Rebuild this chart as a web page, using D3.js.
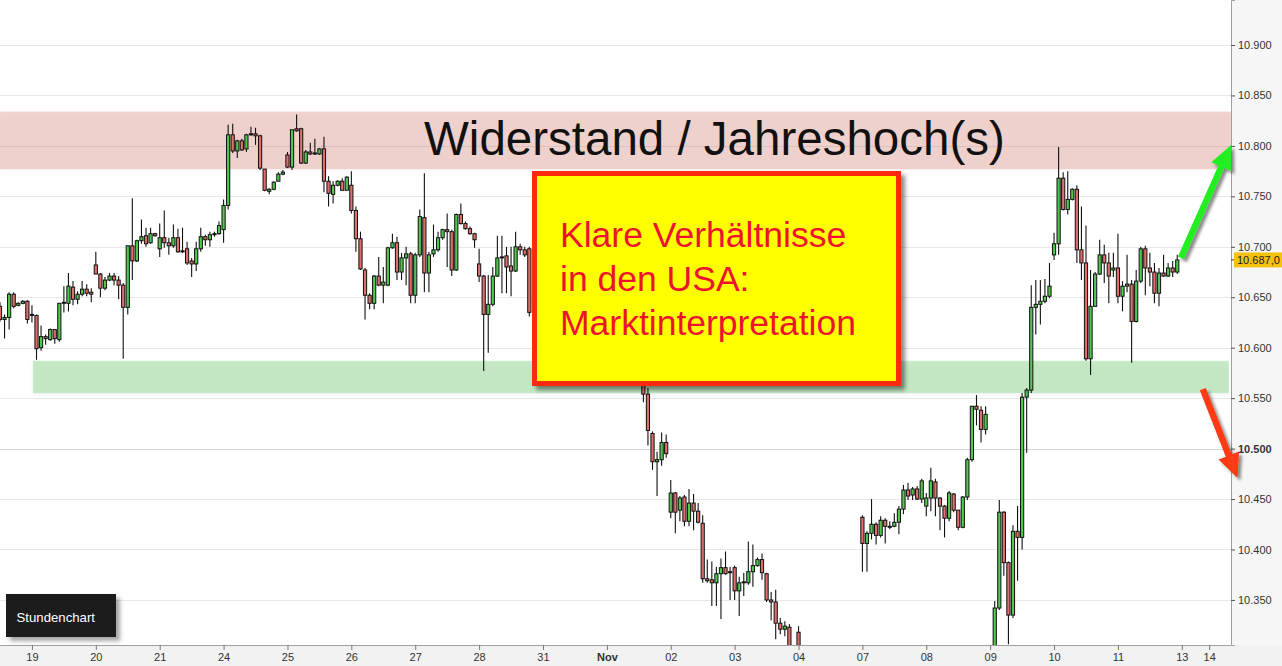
<!DOCTYPE html>
<html><head><meta charset="utf-8">
<script src="https://cdn.jsdelivr.net/npm/d3@7"></script>
<style>
html,body{margin:0;padding:0;background:#fff;overflow:hidden;}
svg{display:block;font-family:"Liberation Sans",Arial,Helvetica,sans-serif;}
</style></head><body>
<svg id="chart" width="1282" height="666"></svg>
<script>
// ---- data ----
const dayLabels = ["19","20","21","24","25","26","27","28","31","Nov","02","03","04","07","08","09","10","11","13","14"];
const dayTickIndex = [7,21,35,49,63,77,91,105,119,133,147,161,175,189,203,217,231,245,259,265];
const yTicks = [10.35,10.40,10.45,10.50,10.55,10.60,10.65,10.70,10.75,10.80,10.85,10.90];
const resistanceBand = [10.777, 10.834];
const supportBand = [10.555, 10.587];
const lastPrice = 10.687;
const titleText = "Widerstand / Jahreshoch(s)";
const boxLines = ["Klare Verhältnisse","in den USA:","Marktinterpretation"];
const badgeText = "Stundenchart";
// hourly candles [open, high, low, close]; null = hidden / off chart
const candles = [
[10.641,10.645,10.626,10.628],[10.628,10.633,10.609,10.630],[10.630,10.655,10.618,10.653],[10.653,10.655,10.639,10.641],
[10.642,10.645,10.641,10.644],[10.644,10.647,10.643,10.646],[10.646,10.647,10.624,10.628],
// 19
[10.633,10.642,10.625,10.632],[10.632,10.633,10.588,10.599],[10.600,10.622,10.597,10.611],[10.611,10.613,10.603,10.609],
[10.608,10.619,10.607,10.618],[10.618,10.618,10.604,10.609],[10.608,10.644,10.606,10.644],[10.644,10.661,10.635,10.645],
[10.644,10.674,10.636,10.661],[10.660,10.666,10.642,10.648],[10.648,10.656,10.643,10.653],[10.653,10.666,10.651,10.658],
[10.658,10.663,10.651,10.654],[10.655,10.659,10.645,10.653],
// 20
[10.682,10.695,10.673,10.673],[10.673,10.674,10.650,10.659],[10.659,10.670,10.657,10.667],[10.667,10.674,10.666,10.671],
[10.671,10.674,10.662,10.667],[10.667,10.671,10.648,10.662],[10.662,10.664,10.589,10.640],[10.640,10.701,10.633,10.701],
[10.701,10.748,10.667,10.686],[10.686,10.707,10.685,10.706],[10.706,10.727,10.703,10.710],[10.711,10.719,10.700,10.703],
[10.704,10.719,10.703,10.713],[10.713,10.714,10.710,10.711],
// 21
[10.698,10.723,10.690,10.709],[10.709,10.736,10.699,10.704],[10.704,10.709,10.692,10.701],[10.701,10.722,10.699,10.709],
[10.709,10.718,10.694,10.695],[10.696,10.719,10.694,10.695],[10.698,10.705,10.682,10.684],[10.686,10.689,10.670,10.683],
[10.683,10.705,10.676,10.698],[10.698,10.719,10.695,10.710],[10.710,10.712,10.701,10.707],[10.707,10.715,10.700,10.712],
[10.712,10.715,10.710,10.713],[10.713,10.725,10.712,10.721],
// 24
[10.717,10.747,10.704,10.741],[10.741,10.821,10.737,10.811],[10.811,10.822,10.793,10.795],[10.795,10.806,10.788,10.805],
[10.805,10.807,10.795,10.796],[10.797,10.812,10.794,10.811],[10.811,10.819,10.810,10.812],[10.812,10.818,10.801,10.810],
[10.810,10.811,10.776,10.778],[10.777,10.777,10.755,10.756],[10.755,10.758,10.752,10.757],[10.757,10.765,10.756,10.764],
[10.765,10.774,10.765,10.772],[10.772,10.776,10.771,10.774],
// 25
[10.791,10.794,10.778,10.779],[10.779,10.816,10.776,10.816],[10.817,10.831,10.814,10.815],[10.817,10.818,10.782,10.783],
[10.783,10.796,10.782,10.794],[10.794,10.803,10.791,10.792],[10.793,10.807,10.791,10.792],[10.792,10.798,10.791,10.797],
[10.797,10.809,10.754,10.765],[10.765,10.770,10.740,10.753],[10.752,10.765,10.743,10.761],[10.761,10.766,10.760,10.765],
[10.765,10.768,10.756,10.756],[10.756,10.770,10.756,10.769],
// 26
[10.761,10.775,10.733,10.736],[10.736,10.740,10.695,10.708],[10.708,10.715,10.677,10.678],[10.677,10.679,10.628,10.652],
[10.652,10.654,10.638,10.644],[10.644,10.672,10.638,10.671],[10.671,10.690,10.661,10.662],[10.662,10.680,10.644,10.665],
[10.662,10.700,10.661,10.699],[10.699,10.713,10.698,10.704],[10.704,10.710,10.667,10.675],[10.675,10.694,10.667,10.689],
[10.689,10.700,10.662,10.693],[10.693,10.695,10.644,10.652],
// 27
[10.652,10.694,10.644,10.692],[10.692,10.737,10.690,10.730],[10.729,10.773,10.655,10.674],[10.674,10.695,10.655,10.692],
[10.693,10.722,10.690,10.697],[10.697,10.715,10.695,10.709],[10.709,10.718,10.707,10.717],[10.717,10.733,10.680,10.715],
[10.715,10.717,10.671,10.677],[10.677,10.733,10.676,10.732],[10.732,10.743,10.722,10.723],[10.723,10.725,10.717,10.718],
[10.718,10.720,10.712,10.713],[10.713,10.714,10.699,10.707],
// 28
[10.683,10.698,10.665,10.671],[10.671,10.672,10.577,10.633],[10.633,10.672,10.595,10.643],[10.643,10.680,10.641,10.671],
[10.671,10.711,10.670,10.689],[10.690,10.711,10.654,10.689],[10.691,10.700,10.654,10.680],[10.681,10.700,10.651,10.676],
[10.676,10.715,10.675,10.700],[10.700,10.703,10.692,10.697],[10.697,10.700,10.690,10.692],[10.698,10.700,10.631,10.635],
null,null,
// 31
null,null,null,null,null,null,null,null,null,null,null,null,null,null,
// Nov 01
null,null,null,null,null,null,null,null,
[10.565,10.568,10.546,10.554],[10.554,10.560,10.503,10.518],[10.515,10.517,10.479,10.487],[10.487,10.497,10.453,10.489],
[10.489,10.516,10.483,10.506],[10.506,10.514,10.491,10.495],
// 02
[10.437,10.469,10.431,10.456],[10.456,10.457,10.416,10.437],[10.439,10.453,10.428,10.451],[10.452,10.454,10.423,10.428],
[10.428,10.460,10.423,10.446],[10.446,10.455,10.419,10.438],[10.438,10.446,10.426,10.427],[10.426,10.434,10.367,10.371],
[10.371,10.390,10.367,10.369],[10.370,10.388,10.344,10.367],[10.367,10.383,10.344,10.376],[10.376,10.391,10.331,10.382],
[10.382,10.398,10.375,10.376],[10.378,10.383,10.350,10.377],
// 03
[10.382,10.384,10.350,10.359],[10.359,10.373,10.334,10.367],[10.368,10.377,10.354,10.367],[10.367,10.408,10.365,10.378],
[10.378,10.405,10.363,10.384],[10.384,10.392,10.383,10.390],[10.390,10.396,10.370,10.377],[10.376,10.377,10.348,10.350],
[10.350,10.358,10.330,10.348],[10.348,10.360,10.311,10.327],[10.327,10.332,10.316,10.321],[10.321,10.329,10.314,10.324],
[10.323,10.326,10.290,10.295],[10.298,10.303,10.280,10.290],
// 04
[10.318,10.324,10.280,10.290],null,null,null,null,null,null,null,null,null,null,null,null,null,
// 07
[10.432,10.434,10.378,10.406],[10.406,10.418,10.378,10.416],[10.416,10.450,10.410,10.425],[10.425,10.427,10.405,10.414],
[10.414,10.433,10.412,10.429],[10.429,10.431,10.406,10.423],[10.423,10.428,10.420,10.422],[10.423,10.436,10.422,10.427],
[10.427,10.443,10.415,10.440],[10.440,10.464,10.435,10.459],[10.459,10.466,10.449,10.453],[10.454,10.462,10.449,10.460],
[10.460,10.463,10.449,10.450],[10.450,10.470,10.446,10.468],
// 08
[10.443,10.456,10.433,10.451],[10.451,10.481,10.438,10.468],[10.467,10.470,10.433,10.451],[10.451,10.452,10.419,10.443],
[10.443,10.444,10.412,10.431],[10.431,10.458,10.428,10.456],[10.455,10.456,10.437,10.439],[10.439,10.439,10.419,10.422],
[10.422,10.453,10.421,10.452],[10.452,10.491,10.449,10.489],[10.489,10.542,10.487,10.542],[10.542,10.553,10.523,10.539],
[10.538,10.542,10.506,10.519],[10.519,10.542,10.514,10.534],
// 09
null,[10.280,10.349,10.270,10.342],[10.342,10.449,10.340,10.437],[10.437,10.438,10.374,10.387],
[10.387,10.388,10.306,10.335],[10.335,10.424,10.332,10.418],[10.418,10.443,10.369,10.412],[10.412,10.555,10.400,10.551],
[10.551,10.560,10.496,10.558],[10.558,10.662,10.555,10.640],[10.640,10.667,10.613,10.643],[10.643,10.667,10.623,10.646],
[10.646,10.668,10.644,10.651],[10.651,10.684,10.649,10.661],
// 10
[10.692,10.714,10.687,10.703],[10.703,10.799,10.692,10.768],[10.768,10.774,10.736,10.737],[10.737,10.775,10.732,10.747],
[10.747,10.758,10.746,10.757],[10.757,10.761,10.684,10.697],[10.697,10.740,10.667,10.684],[10.684,10.721,10.587,10.589],
[10.589,10.677,10.573,10.641],[10.641,10.675,10.641,10.673],[10.673,10.707,10.672,10.692],[10.692,10.702,10.664,10.684],
[10.684,10.694,10.644,10.671],[10.677,10.694,10.670,10.679],
// 11
[10.679,10.713,10.644,10.651],[10.651,10.666,10.636,10.661],[10.661,10.692,10.655,10.663],[10.663,10.667,10.585,10.626],
[10.626,10.677,10.625,10.666],[10.666,10.700,10.664,10.698],[10.698,10.701,10.652,10.679],[10.679,10.694,10.661,10.675],
[10.675,10.684,10.644,10.654],[10.654,10.679,10.641,10.674],[10.674,10.692,10.670,10.671],[10.671,10.684,10.670,10.679],
[10.679,10.686,10.670,10.675],[10.675,10.692,10.673,10.687]
];
// annotation arrows in data space: [index, price]
const upArrow = [[258.8, 10.689], [269.8, 10.801]];
const downArrow = [[263.6, 10.559], [271.2, 10.471]];

// ---- layout ----
const W = 1282, H = 666;
const plotW = 1231, plotH = 645;
const step = 4.563;
const svg = d3.select("#chart");

const x = d3.scaleLinear().domain([0, plotW / step]).range([0, plotW]);
const y = d3.scaleLinear().domain([10.5 - (plotH - 448.6) / 1009, 10.5 + 448.6 / 1009]).range([plotH, 0]);

const defs = svg.append("defs");
function shadow(id, dx, dy, sd, op) {
  const f = defs.append("filter").attr("id", id).attr("x", "-20%").attr("y", "-20%").attr("width", "150%").attr("height", "160%");
  f.append("feDropShadow").attr("dx", dx).attr("dy", dy).attr("stdDeviation", sd)
    .attr("flood-color", "#000").attr("flood-opacity", op);
}
shadow("shBox", 4, 4, 2, 0.45);
shadow("shBadge", 4, 4, 2, 0.35);
shadow("shArrow", 3, 3, 1.5, 0.45);
shadow("shBand", 0, 2, 2, 0.12);
defs.append("clipPath").attr("id", "plotClip").append("rect").attr("width", plotW).attr("height", plotH);

// backgrounds
svg.append("rect").attr("x", plotW).attr("y", 0).attr("width", W - plotW).attr("height", H).attr("fill", "#f6f6f6");
svg.append("rect").attr("x", 0).attr("y", plotH).attr("width", W).attr("height", H - plotH).attr("fill", "#f2f2f2");

// grid
svg.append("g").selectAll("line").data(yTicks).join("line")
  .attr("x1", 0).attr("x2", plotW)
  .attr("y1", d => Math.round(y(d)) + 0.5).attr("y2", d => Math.round(y(d)) + 0.5)
  .attr("stroke", d => Math.abs(d - 10.5) < 1e-9 ? "#d6d6d6" : "#e8e8e8").attr("stroke-width", 1);

// bands
const plot = svg.append("g").attr("clip-path", "url(#plotClip)");
plot.append("rect").attr("x", 0).attr("width", plotW)
  .attr("y", y(resistanceBand[1])).attr("height", y(resistanceBand[0]) - y(resistanceBand[1]))
  .attr("fill", "rgba(205,85,70,0.25)").attr("filter", "url(#shBand)");
plot.append("rect").attr("x", x(7.2)).attr("width", x(269.3) - x(7.2))
  .attr("y", y(supportBand[1])).attr("height", y(supportBand[0]) - y(supportBand[1]))
  .attr("fill", "rgba(100,200,100,0.36)").attr("filter", "url(#shBand)");

// candles
const cData = candles.map((c, i) => c ? { i, o: c[0], h: c[1], l: c[2], c: c[3] } : null).filter(d => d);
const cg = plot.append("g");
cg.selectAll("line").data(cData).join("line")
  .attr("x1", d => x(d.i)).attr("x2", d => x(d.i))
  .attr("y1", d => y(d.h)).attr("y2", d => y(d.l))
  .attr("stroke", "#111").attr("stroke-width", 1.1);
const bw = 3.2;
cg.selectAll("rect").data(cData).join("rect")
  .attr("x", d => x(d.i) - bw / 2).attr("width", bw)
  .attr("y", d => y(Math.max(d.o, d.c)))
  .attr("height", d => Math.max(1, Math.abs(y(d.o) - y(d.c))))
  .attr("fill", d => d.c >= d.o ? "#50c850" : "#e06f6b")
  .attr("stroke", "#111").attr("stroke-width", 1);

// axes
const yAxis = svg.append("g").attr("transform", `translate(${plotW},0)`)
  .call(d3.axisRight(y).tickValues(yTicks).tickSize(4).tickPadding(3).tickFormat(d => d.toFixed(3)));
yAxis.select(".domain").attr("stroke", "#a0a0a0");
yAxis.selectAll(".tick line").attr("stroke", "#555");
yAxis.selectAll("text").attr("font-size", 11).attr("fill", "#333")
  .attr("font-family", "'Liberation Sans',Arial,sans-serif")
  .attr("font-weight", d => Math.abs(d - 10.5) < 1e-9 ? "bold" : "normal");

const xAxis = svg.append("g").attr("transform", `translate(0,${plotH})`)
  .call(d3.axisBottom(x).tickValues(dayTickIndex).tickSize(5).tickPadding(3).tickFormat((d, i) => dayLabels[i]));
xAxis.select(".domain").attr("stroke", "#a0a0a0").attr("d", `M0,0.5H${plotW}`);
xAxis.selectAll(".tick line").attr("stroke", "#777");
xAxis.selectAll("text").attr("font-size", 11).attr("fill", "#333")
  .attr("font-family", "'Liberation Sans',Arial,sans-serif")
  .attr("font-weight", (d, i) => dayLabels[i] === "Nov" ? "bold" : "normal");

// last price marker
const yl = y(lastPrice);
svg.append("line").attr("x1", plotW).attr("x2", plotW + 4).attr("y1", yl).attr("y2", yl).attr("stroke", "#333");
svg.append("rect").attr("x", plotW + 3).attr("y", yl - 7.5).attr("width", W - plotW - 3).attr("height", 15).attr("fill", "#f4c20d");
svg.append("text").attr("x", plotW + 6).attr("y", yl + 4).attr("font-size", 11).attr("fill", "#222").text("10.687,0");

// title in resistance band
svg.append("text").attr("x", 424).attr("y", 155).attr("font-size", 47.5).attr("fill", "#111").text(titleText);

// yellow box
svg.append("rect").attr("x", 534.5).attr("y", 173.5).attr("width", 364).attr("height", 210)
  .attr("fill", "#ffff00").attr("stroke", "#ff2a0a").attr("stroke-width", 5).attr("filter", "url(#shBox)");
const bt = svg.append("text").attr("font-size", 35.5).attr("fill", "#ee1230");
boxLines.forEach((t, k) => bt.append("tspan").attr("x", 560).attr("y", 247 + k * 44).text(t));

// arrows
function arrow(pts, color) {
  const [p0, p1] = pts.map(p => [x(p[0]), y(p[1])]);
  const dx = p1[0] - p0[0], dy = p1[1] - p0[1];
  const len = Math.hypot(dx, dy), ux = dx / len, uy = dy / len, nx = -uy, ny = ux;
  const hl = 24, hw = 11, sw = 3.2;
  const bx = p1[0] - ux * hl, by = p1[1] - uy * hl;
  const path = d3.path();
  path.moveTo(p0[0] + nx * sw, p0[1] + ny * sw);
  path.lineTo(bx + nx * sw, by + ny * sw);
  path.lineTo(bx + nx * hw, by + ny * hw);
  path.lineTo(p1[0], p1[1]);
  path.lineTo(bx - nx * hw, by - ny * hw);
  path.lineTo(bx - nx * sw, by - ny * sw);
  path.lineTo(p0[0] - nx * sw, p0[1] - ny * sw);
  path.closePath();
  svg.append("path").attr("d", path.toString()).attr("fill", color).attr("filter", "url(#shArrow)");
}
arrow(upArrow, "#22ee22");
arrow(downArrow, "#ff3a12");

// badge
svg.append("rect").attr("x", 6).attr("y", 594).attr("width", 110).attr("height", 43)
  .attr("fill", "#1e1e1e").attr("filter", "url(#shBadge)");
svg.append("text").attr("x", 16.5).attr("y", 621.5).attr("font-size", 13.2).attr("fill", "#fff").text(badgeText);
</script>
</body></html>
